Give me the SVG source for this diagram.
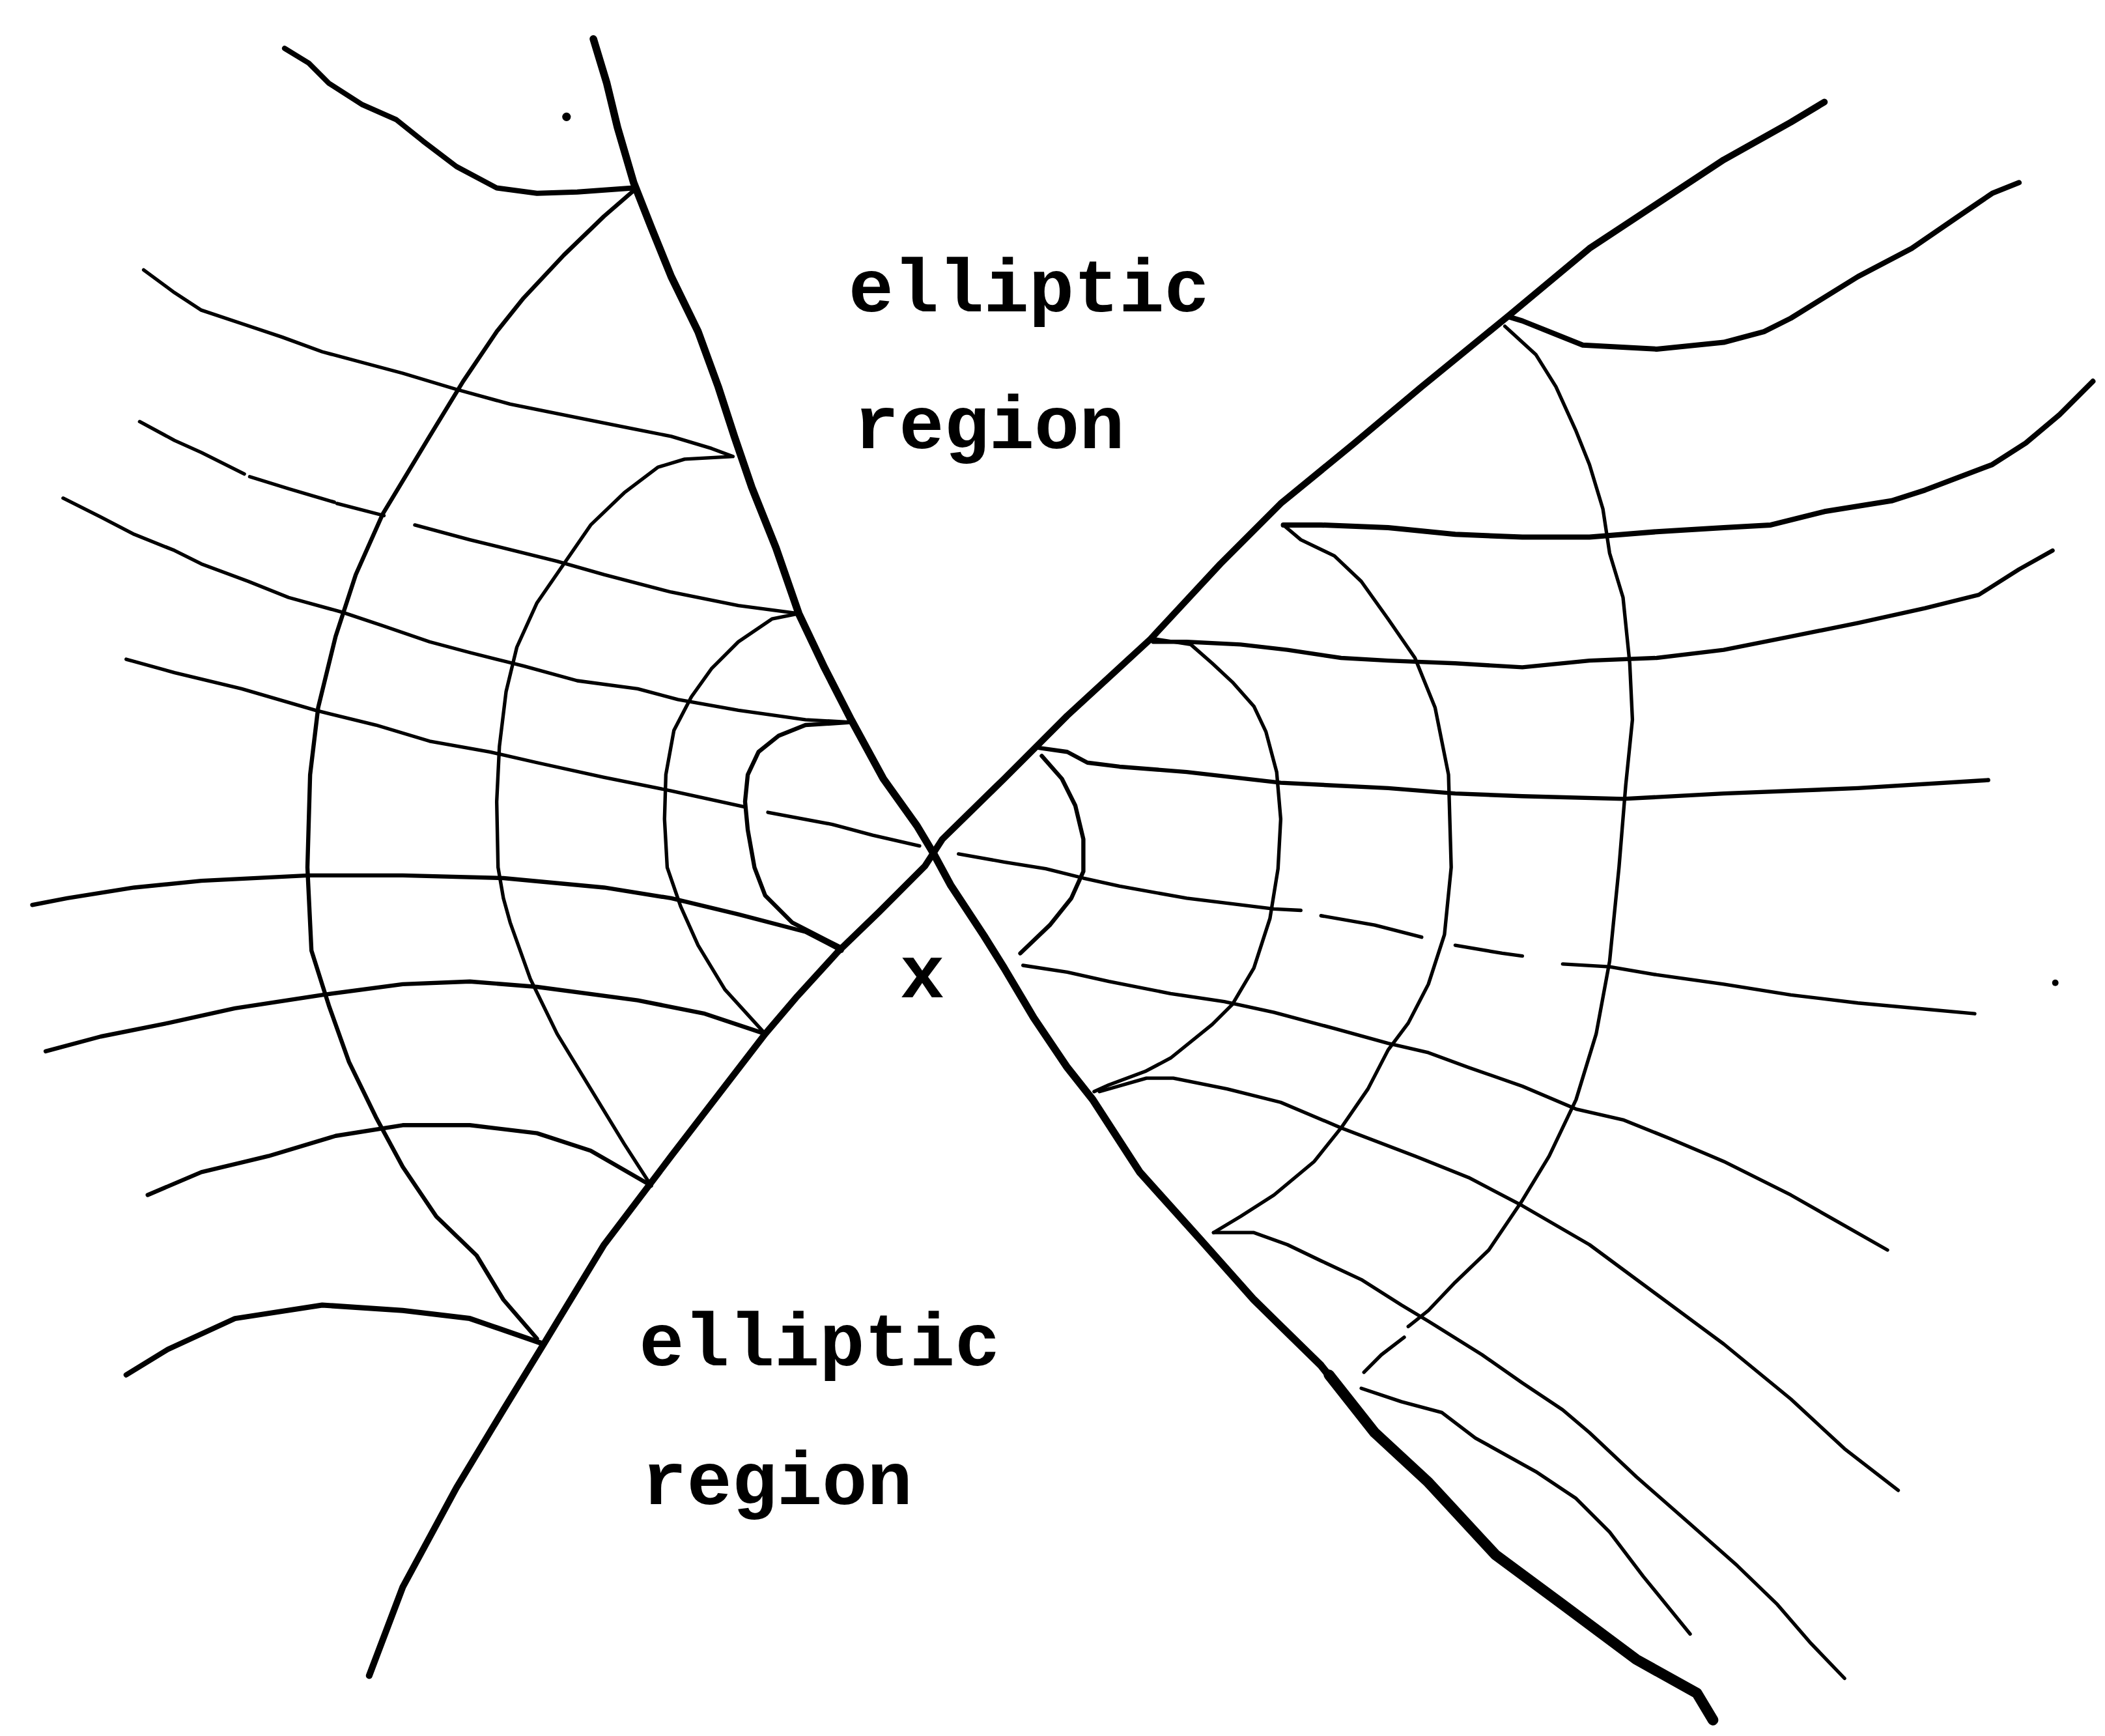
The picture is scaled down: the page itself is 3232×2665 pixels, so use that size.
<svg xmlns="http://www.w3.org/2000/svg" width="3232" height="2665" viewBox="0 0 3232 2665">
<style>
.ln{fill:none;stroke:#000;stroke-linecap:round;stroke-linejoin:round}
.t{stroke-width:2.6}
.m{stroke-width:3.1}
.k{stroke-width:3.9}
.A{stroke-width:5.6}
.B{stroke-width:4.9}
.lbl{font-family:"Liberation Mono","Courier New",monospace;font-size:56px;font-weight:bold;fill:#000}
</style>
<rect width="3232" height="2665" fill="#fff"/>
<g transform="scale(2.0612)">
<g id="connectors">
<path id="lineA" class="ln A" d="M442,29 L452,62 L460,95 L472,136 L485,169 L500,206 L520,247 L535,288 L547,325 L560,363 L578,408 L595,457 L614,497 L634,536 L658,580 L683,615 L695,635 L708,659 L733,697 L748,721 L770,758 L795,795 L814,819 L849,873 L894,923 L934,968 L984,1017 L1024,1067 L1064,1104 L1114,1158 L1164,1195 L1219,1236 L1264,1261 L1276,1281"/>
<path class="ln" style="stroke-width:8" d="M990,1024 L1024,1067 L1064,1104 L1114,1158 L1164,1195 L1219,1236 L1264,1261 L1276,1281"/>
<path id="lineB" class="ln B" d="M1359,76 L1334,91 L1284,119 L1234,152 L1184,185 L1124,235 L1059,288 L1009,330 L954,375 L909,420 L857,476 L795,533 L748,580 L702,625 L689,645 L655,679 L624,709 L593,743 L570,770 L500,861 L450,927 L405,1001 L375,1050 L340,1108 L300,1182 L275,1248"/>
<path class="ln k" d="M212,36 L230,47 L245,62 L270,78 L295,89 L315,105 L340,124 L370,140 L400,144 L430,143 L472,140"/>
<path class="ln m" d="M472,142 L450,161 L420,190 L390,222 L370,247 L345,284 L320,325 L285,383 L265,428 L250,474 L237,527 L231,577 L229,646 L232,708 L245,749 L260,791 L280,832 L300,869 L325,906 L355,935 L375,968 L400,997"/>
<path class="ln t" d="M545,340 L510,342 L490,348 L465,367 L440,391 L420,420 L400,449 L385,482 L377,515 L372,556 L370,597 L371,646 L375,669 L380,687 L395,729 L415,770 L440,811 L465,852 L485,883"/>
<path class="ln t" d="M595,457 L575,461 L550,478 L530,498 L515,519 L502,544 L496,577 L495,610 L497,646 L507,675 L520,704 L540,737 L570,770"/>
<path class="ln m" d="M632,538 L600,540 L580,548 L565,560 L557,577 L555,597 L557,618 L562,646 L570,667 L590,687 L627,706"/>
<path class="ln t" d="M107,201 L130,218 L150,231 L180,241 L210,251 L240,262 L270,270 L300,278 L340,290 L380,301 L430,311 L470,319 L500,325 L530,334 L546,340"/>
<path class="ln t" d="M104,314 L130,328 L150,337 L182,353"/>
<path class="ln t" d="M186,355 L215,364 L249,374"/>
<path class="ln t" d="M251,375 L286,384"/>
<path class="ln t" d="M309,391 L350,402 L415,418 L450,428 L500,441 L550,451 L595,457"/>
<path class="ln t" d="M47,371 L75,385 L100,398 L130,410 L150,420 L185,433 L215,445 L255,456 L285,466 L320,478 L350,486 L390,496 L430,507 L475,513 L505,521 L550,529 L600,536 L635,538"/>
<path class="ln t" d="M94,491 L130,501 L180,513 L235,529 L280,540 L320,552 L365,560 L400,568 L450,579 L500,589 L555,601"/>
<path class="ln t" d="M572,605 L620,614 L650,622 L685,630"/>
<path class="ln t" d="M714,636 L748,642 L779,647 L807,654 L834,660 L884,669 L949,677 L969,678"/>
<path class="ln t" d="M984,682 L1024,689 L1059,698"/>
<path class="ln t" d="M1084,704 L1119,710 L1134,712"/>
<path class="ln t" d="M1164,718 L1199,720 L1234,726 L1284,733 L1334,741 L1384,747 L1471,755"/>
<path class="ln m" d="M24,674 L50,669 L100,661 L150,656 L230,652 L300,652 L375,654 L450,661 L500,669 L550,681 L600,694 L627,708"/>
<path class="ln m" d="M34,783 L75,772 L125,762 L175,751 L240,741 L300,733 L350,731 L400,735 L475,745 L525,755 L570,770"/>
<path class="ln m" d="M110,890 L150,873 L200,861 L250,846 L300,838 L350,838 L400,844 L440,857 L485,883"/>
<path class="ln k" d="M94,1024 L125,1005 L175,982 L240,972 L300,976 L350,982 L405,1001"/>
<path class="ln m" d="M776,563 L791,580 L801,600 L807,625 L807,649 L798,669 L782,689 L760,710"/>
<path class="ln t" d="M861,476 L887,480 L903,494 L918,508 L934,526 L943,545 L951,575 L954,610 L952,647 L946,684 L934,721 L918,748 L903,763 L872,788 L853,798 L826,808 L815,813"/>
<path class="ln t" d="M956,391 L969,402 L994,414 L1014,433 L1034,461 L1054,490 L1069,527 L1079,577 L1081,646 L1076,696 L1064,733 L1049,762 L1034,782 L1019,811 L999,840 L979,865 L949,890 L924,906 L904,918"/>
<path class="ln t" d="M1121,243 L1144,264 L1159,288 L1174,321 L1184,346 L1194,379 L1199,412 L1209,445 L1214,494 L1216,536 L1211,585 L1206,646 L1199,716 L1189,770 L1174,819 L1154,861 L1134,894 L1109,931 L1084,955 L1064,976 L1049,988"/>
<path class="ln t" d="M1046,996 L1029,1009 L1016,1022"/>
<path class="ln k" d="M1124,236 L1134,239 L1159,249 L1179,257 L1234,260 L1284,255 L1314,247 L1334,237 L1384,206 L1424,185 L1459,161 L1484,144 L1504,136"/>
<path class="ln k" d="M956,391 L984,391 L1034,393 L1084,398 L1134,400 L1184,400 L1234,396 L1284,393 L1319,391 L1359,381 L1409,373 L1434,365 L1484,346 L1509,330 L1534,309 L1559,284"/>
<path class="ln m" d="M859,478 L884,478 L924,480 L959,484 L999,490 L1034,492 L1084,494 L1134,497 L1184,492 L1234,490 L1284,484 L1334,474 L1384,464 L1434,453 L1474,443 L1504,424 L1529,410"/>
<path class="ln m" d="M774,557 L795,560 L810,568 L834,571 L884,575 L954,583 L1034,587 L1084,591 L1134,593 L1209,595 L1284,591 L1384,587 L1481,581"/>
<path class="ln t" d="M762,719 L795,724 L826,731 L872,740 L912,746 L949,754 L994,766 L1034,777 L1064,784 L1094,795 L1134,809 L1174,826 L1209,834 L1244,848 L1284,865 L1334,890 L1369,910 L1406,931"/>
<path class="ln t" d="M819,813 L854,803 L874,803 L914,811 L954,821 L999,840 L1054,861 L1094,877 L1134,898 L1184,927 L1234,964 L1284,1001 L1334,1042 L1374,1079 L1414,1110"/>
<path class="ln t" d="M904,918 L934,918 L959,927 L984,939 L1014,953 L1044,972 L1064,984 L1104,1009 L1134,1030 L1164,1050 L1184,1067 L1219,1100 L1259,1135 L1294,1166 L1324,1195 L1349,1224 L1374,1250"/>
<path class="ln t" d="M1014,1034 L1044,1044 L1074,1052 L1099,1071 L1144,1096 L1174,1116 L1199,1141 L1224,1174 L1259,1217"/>
<circle cx="422" cy="87" r="3.2"/>
<circle cx="1531" cy="732" r="2.4"/>
</g>
<g id="label-upper">
<text class="lbl" x="632" y="232">elliptic</text>
<text class="lbl" x="636" y="334">region</text>
</g>
<g id="label-lower">
<text class="lbl" x="476" y="1017">elliptic</text>
<text class="lbl" x="478" y="1120">region</text>
</g>
<g id="label-x">
<text class="lbl" x="687" y="743" text-anchor="middle">x</text>
</g>
</g>
</svg>
